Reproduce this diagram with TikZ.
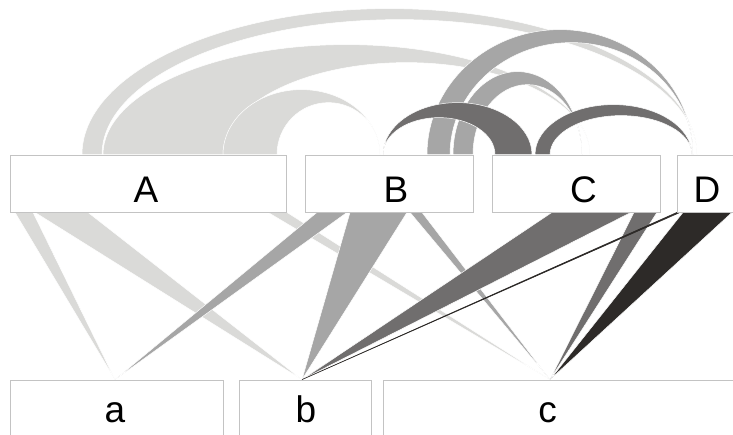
\documentclass[tikz,border=0pt]{standalone}
\usepackage{fontspec}
\setmainfont{Liberation Sans}
\usetikzlibrary{backgrounds}

\definecolor{lightflow}{RGB}{218,218,216}
\definecolor{midflow}{RGB}{166,166,166}
\definecolor{darkflow}{RGB}{112,110,110}
\definecolor{blackflow}{RGB}{45,42,40}
\definecolor{boxline}{RGB}{195,195,195}

\begin{document}
\begin{tikzpicture}[%
      x=1pt, y=1pt,
      box/.style={draw=boxline, fill=white, line width=0.8pt, inner sep=0pt, minimum height=57pt},
      lowbox/.style={box, minimum height=60pt},
      lbl/.style={anchor=base, inner sep=0pt, font=\fontsize{37}{40}\selectfont},
      flow/.style={fill=#1, draw=white, line width=0.5pt},
      ]
      \useasboundingbox (0,0) rectangle (733,434);
      \clip (0,0) rectangle (733,434);

      % upper row
      \node [box, minimum width=276pt] (A) at (148,250.5) {};
      \node [box, minimum width=168pt] (B) at (389,250.5) {};
      \node [box, minimum width=168pt] (C) at (576,250.5) {};
      \node [box, minimum width=60pt]  (D) at (707,250.5) {};
      % lower row
      \node [lowbox, minimum width=213pt] (a) at (116.5,24) {};
      \node [lowbox, minimum width=132pt] (b) at (305,24) {};
      \node [lowbox, minimum width=377pt] (c) at (571.5,24) {};

      \node [lbl] (lA) at ([shift={(-2,10)}]A.south) {A};
      \node [lbl] (lB) at ([shift={(7,10)}]B.south) {B};
      \node [lbl] (lC) at ([shift={(7.5,10)}]C.south) {C};
      \node [lbl] (lD) at ([shift={(0,10)}]D.south) {D};
      \node [lbl] (la) at ([shift={(-1.5,-43)}]a.north) {a};
      \node [lbl] (lb) at ([shift={(1,-43)}]b.north) {b};
      \node [lbl] (lc) at ([shift={(-24,-43)}]c.north) {c};

      \coordinate (ta) at (115,0 |- a.north);
      \coordinate (tb) at (302,0 |- b.north);
      \coordinate (tc) at (550,0 |- c.north);

      \begin{scope}[on background layer]
      % arcs between the upper boxes
      \filldraw [flow=lightflow] (82,0 |- A.north) arc [start angle=180, end angle=0, x radius=307.5, y radius=146]
            arc [start angle=0, end angle=180, x radius=297.5, y radius=135] -- cycle;
      \filldraw [flow=lightflow] (103,0 |- A.north) arc [start angle=180, end angle=0, x radius=243.5, y radius=110]
            arc [start angle=0, end angle=180, x radius=183.5, y radius=92] -- cycle;
      \filldraw [flow=lightflow] (223,0 |- A.north) arc [start angle=180, end angle=0, x radius=78.5, y radius=65]
            arc [start angle=0, end angle=180, x radius=51.5, y radius=52] -- cycle;

      \filldraw [flow=midflow] (427,0 |- B.north) arc [start angle=180, end angle=0, x radius=133, y radius=125]
            arc [start angle=0, end angle=180, x radius=121.5, y radius=112] -- cycle;
      \filldraw [flow=midflow] (453,0 |- B.north) arc [start angle=180, end angle=0, x radius=64.5, y radius=83]
            arc [start angle=0, end angle=180, x radius=54.5, y radius=70] -- cycle;

      \filldraw [flow=darkflow] (532,0 |- C.north) arc [start angle=0, end angle=180, x radius=74.5, y radius=52]
            arc [start angle=180, end angle=0, x radius=56, y radius=37] -- cycle;
      \filldraw [flow=darkflow] (535,0 |- C.north) arc [start angle=180, end angle=0, x radius=78.5, y radius=50]
            arc [start angle=0, end angle=180, x radius=71, y radius=39] -- cycle;

      % wedges down to the lower boxes
      \filldraw [flow=lightflow] (15,0 |- A.south) -- (33,0 |- A.south) -- (ta) -- cycle;
      \filldraw [flow=lightflow] (35,0 |- A.south) -- (88,0 |- A.south) -- (tb) -- cycle;
      \filldraw [flow=lightflow] (268,0 |- A.south) -- (287,0 |- A.south) -- (tc) -- cycle;

      \filldraw [flow=midflow] (317,0 |- B.south) -- (347,0 |- B.south) -- (ta) -- cycle;
      \filldraw [flow=midflow] (350,0 |- B.south) -- (407,0 |- B.south) -- (tb) -- cycle;
      \filldraw [flow=midflow] (410,0 |- B.south) -- (422,0 |- B.south) -- (tc) -- cycle;

      \filldraw [flow=darkflow] (552,0 |- C.south) -- (631,0 |- C.south) -- (tb) -- cycle;
      \filldraw [flow=darkflow] (634,0 |- C.south) -- (657,0 |- C.south) -- (tc) -- cycle;

      \filldraw [flow=blackflow, draw=blackflow, line width=0.6pt] (677,0 |- D.south) -- (680,0 |- D.south) -- (tb) -- cycle;
      \filldraw [flow=blackflow] (683,0 |- D.south) -- (732,0 |- D.south) -- (tc) -- cycle;
      \end{scope}
\end{tikzpicture}
\end{document}
